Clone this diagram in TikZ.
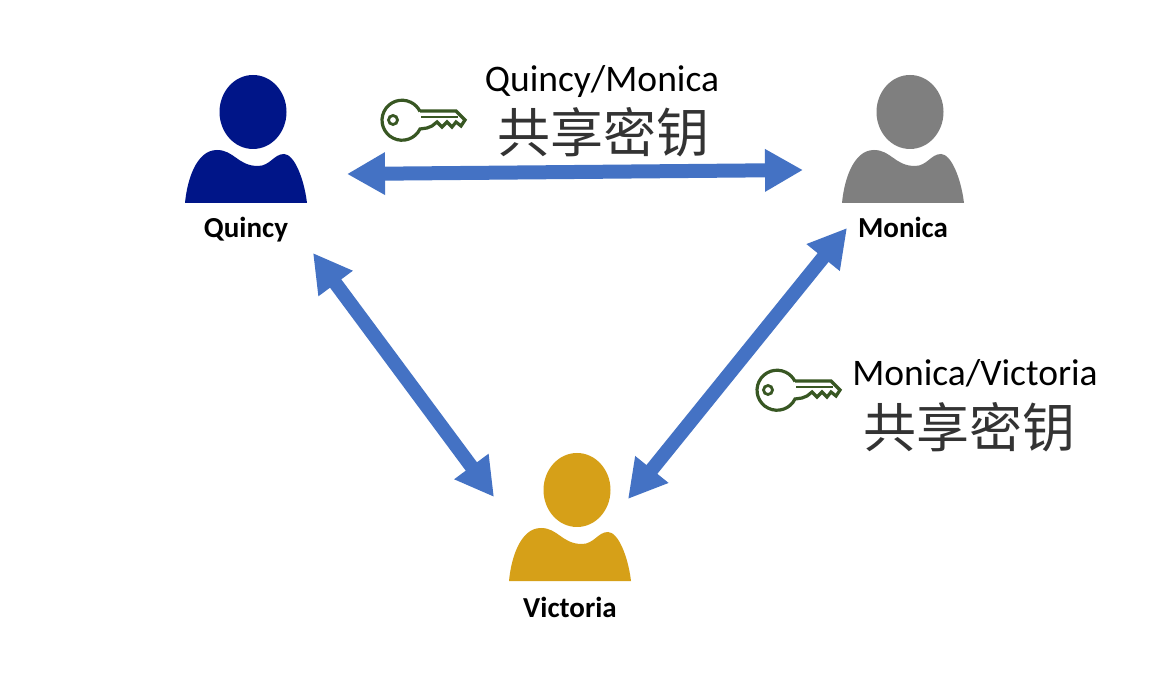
\documentclass[tikz,border=0pt]{standalone}
\usepackage{amsmath}
\usepackage{fontspec}
\usepackage{tikz}
\usetikzlibrary{arrows.meta}
\setmainfont{Carlito}
\newfontfamily\cjk{Noto Sans CJK SC}
\definecolor{quincyblue}{RGB}{0,21,136}
\definecolor{monicagray}{RGB}{127,127,127}
\definecolor{victoriagold}{RGB}{214,160,24}
\definecolor{linkblue}{RGB}{68,114,196}
\definecolor{keygreen}{RGB}{56,87,35}
\tikzset{
	person/.pic={
		\fill (7,91) ellipse[x radius=33.5,y radius=37];
		\fill (-61,0) .. controls (-59,22) and (-50,53) .. (-29,53) .. controls (-12,53) and (-8,37) .. (12,37) .. controls (24,37) and (28,49) .. (38,49) .. controls (48,49) and (58,25) .. (61,0) -- cycle;
	},
	key/.pic={
		\draw[keygreen,line width=3.2] (20,9) -- (56,9) -- (65,0) -- (61,-6) -- (56,-2) -- (52,-7) -- (47,-2) -- (42,-7) -- (37,-2) -- (32,-6) -- (27,-8) -- (20,-9)
			arc[start angle=-26,end angle=-334,radius=20];
		\draw[keygreen,line width=2.8] (-7,0) circle[radius=4.5];
		\draw[keygreen,line width=2] (21,3) -- (58,3);
	},
	link/.style={linkblue,line width=14,{Triangle[length=38,width=40]}-{Triangle[length=38,width=40]}},
	namelabel/.style={font=\fontsize{29}{32}\selectfont\bfseries,text=black,anchor=base},
	pairlabel/.style={font=\fontsize{37.5}{40}\selectfont,text=black,anchor=base},
	secretlabel/.style={font=\cjk\fontsize{53}{56}\selectfont,text=black!80}
}
\begin{document}
\begin{tikzpicture}[x=1pt,y=1pt]
	\useasboundingbox (0,0) rectangle (1170,675);
	\fill[white] (0,0) rectangle (1170,675);

	\pic[quincyblue] at (246,472) {person};
	\node[namelabel] (quincy) at (246,437) {Quincy};
	\pic[monicagray] at (903,472) {person};
	\node[namelabel] (monica) at (903,437) {Monica};
	\pic[victoriagold] at (570,94) {person};
	\node[namelabel] (victoria) at (570,58) {Victoria};

	\coordinate (qm) at (347,501);
	\coordinate (mq) at (803,505);
	\coordinate (qv) at (313,422);
	\coordinate (vq) at (494,178);
	\coordinate (mv) at (847,447);
	\coordinate (vm) at (628,176);
	\draw[link] (qm) -- (mq);
	\draw[link] (qv) -- (vq);
	\draw[link] (mv) -- (vm);

	\pic at (400,555) {key};
	\node[pairlabel] (qmpair) at (602,583) {Quincy/Monica};
	\node[secretlabel] (qmsecret) at (603,543) {共享密钥};

	\pic at (775,285) {key};
	\node[pairlabel] (mvpair) at (975,289) {Monica/Victoria};
	\node[secretlabel] (mvsecret) at (969,248) {共享密钥};
\end{tikzpicture}
\end{document}
